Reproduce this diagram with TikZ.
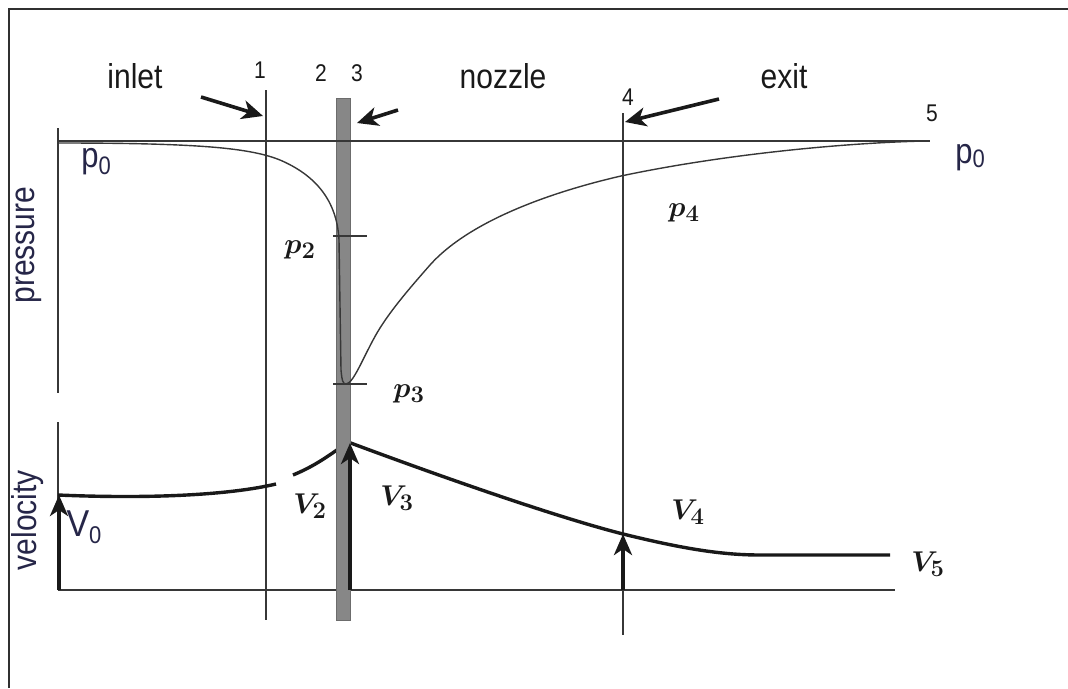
\documentclass[tikz,border=0pt]{standalone}
\usepackage{fontspec}
\setmainfont{Liberation Sans}
\usepackage{amsmath}
\usepackage{graphicx}
\usetikzlibrary{arrows.meta}
\definecolor{ink}{RGB}{25,25,25}
\definecolor{axis}{RGB}{55,55,55}
\definecolor{navy}{RGB}{38,38,72}
\definecolor{barfill}{RGB}{135,135,135}
\newcommand{\tallsf}[2]{\scalebox{1}[1.15]{\fontsize{#1}{#1}\selectfont #2}}
\newcommand{\mlabtext}[1]{\scalebox{1.15}{$\boldsymbol{#1}$}}
\begin{document}
\begin{tikzpicture}[x=1pt,y=-1pt,
  frame/.style={line width=2.4pt, draw=ink!90},
  axisline/.style={line width=1.5pt, draw=axis},
  pcurve/.style={line width=1.4pt, draw=axis},
  vcurve/.style={line width=3.4pt, draw=ink},
  varrow/.style={line width=4pt, draw=ink, -{Stealth[length=21pt,width=18pt,inset=6pt]}},
  pointer/.style={line width=3.6pt, draw=ink, -{Stealth[length=21pt,width=19pt,inset=6pt]}},
  word/.style={text=ink, inner sep=0pt},
  axlab/.style={text=navy, inner sep=0pt, rotate=90},
  mlab/.style={font=\fontsize{24.88}{30}\selectfont, text=ink, inner sep=0pt},
  sublab/.style={text=navy, inner sep=0pt}]
\useasboundingbox (0,0) rectangle (1068,688);

% frame (left and top edges)
\draw[frame] (9,688) -- (9,9) -- (1068,9);

% coordinates
\coordinate (pAxTop) at (58,128);
\coordinate (pAxBot) at (58,393);
\coordinate (vAxTop) at (58,422);
\coordinate (vBase0) at (58,590);
\coordinate (vBaseE) at (895,590);
\coordinate (topL) at (58,141);
\coordinate (topR) at (930,141);
\coordinate (l1t) at (266,90);
\coordinate (l1b) at (266,620);
\coordinate (l4t) at (623,113);
\coordinate (l4b) at (623,635);

% axes and station lines
\draw[axisline] (pAxTop) -- (pAxBot);
\draw[axisline] (vAxTop) -- (vBase0);
\draw[axisline] (vBase0) -- (vBaseE);
\draw[axisline] (l1t) -- (l1b);
\draw[axisline] (l4t) -- (l4b);

% velocity curve
\draw[vcurve] (58,495) .. controls (150,499) and (230,495) .. (276,484);
\draw[vcurve] (293,475) .. controls (315,466) and (330,455) .. (348,442)
  .. controls (450,480) and (560,518) .. (623,534)
  .. controls (680,548) and (720,555) .. (760,555) -- (890,555);

% gray bar (nozzle throat)
\node[draw=barfill!80!black, line width=0.6pt, fill=barfill, minimum width=14pt, minimum height=522pt, inner sep=0pt] (bar) at (343,359) {};

% top pressure line
\draw[axisline] (topL) -- (topR);

% pressure curve
\draw[pcurve] (58,143) .. controls (200,143) and (250,148) .. (280,160)
  .. controls (315,175) and (337,200) .. (339,240) -- (341,370)
  .. controls (342,381) and (343,384) .. (346,384)
  .. controls (354,384) and (366,350) .. (380,328)
  .. controls (392,309) and (408,290) .. (430,265)
  .. controls (472,218) and (560,190) .. (621,176)
  .. controls (720,155) and (840,143) .. (925,141);

% ticks
\draw[axisline] (333,236) -- (367,236);
\draw[axisline] (333,384) -- (367,384);

% velocity arrows
\coordinate (a0s) at (59,590); \coordinate (a0e) at (59,495);
\coordinate (a3s) at (350,590); \coordinate (a3e) at (350,443);
\coordinate (a4s) at (623,590); \coordinate (a4e) at (623,534);
\draw[varrow] (a0s) -- (a0e);
\draw[varrow] (a3s) -- (a3e);
\draw[varrow] (a4s) -- (a4e);

% pointer arrows
\coordinate (i1) at (201,97); \coordinate (i2) at (263,116);
\coordinate (n1) at (398,110); \coordinate (n2) at (357,123);
\coordinate (e1) at (719,99); \coordinate (e2) at (625,122);
\draw[pointer] (i1) -- (i2);
\draw[pointer] (n1) -- (n2);
\draw[pointer] (e1) -- (e2);

% words
\node[word] (inlet) at (135,76) {\tallsf{30}{inlet}};
\node[word] (nozzle) at (503,76) {\tallsf{30}{nozzle}};
\node[word] (exit) at (784,76) {\tallsf{30}{exit}};
\node[word] (n1lab) at (260,70) {\tallsf{21}{1}};
\node[word] (n2lab) at (321,73) {\tallsf{21}{2}};
\node[word] (n3lab) at (357,73) {\tallsf{21}{3}};
\node[word] (n4lab) at (628,97) {\tallsf{21}{4}};
\node[word] (n5lab) at (932,113) {\tallsf{21}{5}};
\node[axlab] (press) at (29,245) {\tallsf{30}{pressure}};
\node[axlab] (veloc) at (28,520) {\tallsf{30}{velocity}};

% p0 and V0 labels
\node[sublab] (p0l) at (96,162) {\scalebox{1}[1.15]{{\fontsize{31}{31}\selectfont p}\raisebox{-6pt}{\fontsize{22}{22}\selectfont 0}}};
\node[sublab] (p0r) at (970,158) {\scalebox{1}[1.15]{{\fontsize{31}{31}\selectfont p}\raisebox{-3pt}{\fontsize{22}{22}\selectfont 0}}};
\node[sublab] (V0) at (84,527) {\scalebox{1}[1.1]{{\fontsize{34}{34}\selectfont V}\raisebox{-6pt}{\fontsize{22}{22}\selectfont 0}}};

% math labels
\node[mlab] (p2) at (300,250) {\mlabtext{p_2}};
\node[mlab] (p3) at (409,394) {\mlabtext{p_3}};
\node[mlab] (p4) at (684,213) {\mlabtext{p_4}};
\node[mlab] (V2) at (310,506) {\mlabtext{V_2}};
\node[mlab] (V3) at (397,498) {\mlabtext{V_3}};
\node[mlab] (V4) at (688,512) {\mlabtext{V_4}};
\node[mlab] (V5) at (928,564) {\mlabtext{V_5}};
\end{tikzpicture}
\end{document}
